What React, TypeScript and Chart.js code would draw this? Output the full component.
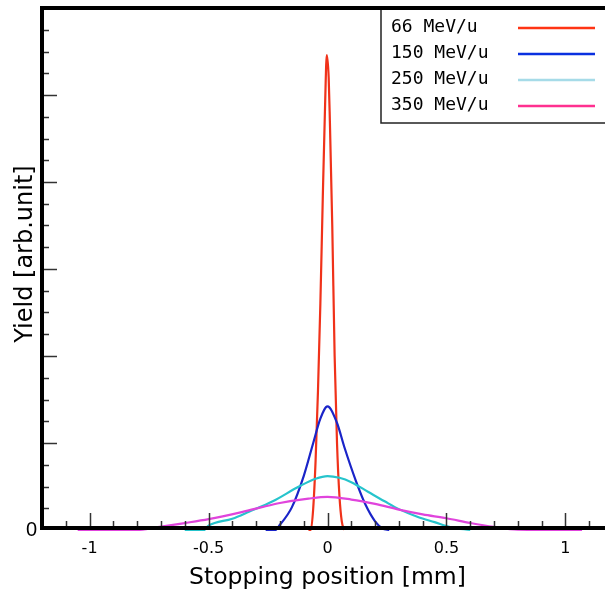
import React, { useEffect, useRef } from "react";
import { Chart, registerables } from "chart.js";

Chart.register(...registerables);

// ---- data ----
const seriesLabels = ["66 MeV/u", "150 MeV/u", "250 MeV/u", "350 MeV/u"];
const xTitle = "Stopping position [mm]";
const yTitle = "Yield [arb.unit]";

const x66 = [-0.08, -0.07, -0.06, -0.05, -0.04, -0.03, -0.02, -0.01, -0.003, 0.005, 0.01, 0.02, 0.03, 0.04, 0.05, 0.06, 0.07];
const y66 = [0, 0, 0.25, 0.8, 1.6, 2.6, 3.8, 4.9, 5.46, 5.2, 4.7, 3.5, 2.0, 1.0, 0.4, 0.1, 0];

const x150 = [-0.26, -0.22, -0.2, -0.15, -0.1, -0.06, -0.03, 0.0, 0.04, 0.07, 0.12, 0.16, 0.2, 0.23, 0.26];
const y150 = [0, 0, 0.06, 0.26, 0.62, 1.0, 1.28, 1.42, 1.23, 0.96, 0.56, 0.29, 0.1, 0.02, 0];

const x250 = [-0.6, -0.52, -0.5, -0.4, -0.33, -0.23, -0.12, -0.05, 0.0, 0.05, 0.1, 0.17, 0.24, 0.3, 0.38, 0.45, 0.52, 0.6];
const y250 = [0, 0, 0.05, 0.13, 0.21, 0.33, 0.5, 0.59, 0.62, 0.6, 0.55, 0.44, 0.33, 0.24, 0.15, 0.09, 0.03, 0];

const x350 = [-1.05, -0.8, -0.72, -0.6, -0.5, -0.37, -0.28, -0.2, -0.08, 0.0, 0.1, 0.2, 0.3, 0.4, 0.5, 0.6, 0.7, 0.8, 1.07];
const y350 = [0, 0, 0.03, 0.08, 0.125, 0.2, 0.26, 0.31, 0.36, 0.38, 0.35, 0.3, 0.235, 0.18, 0.135, 0.08, 0.035, 0.005, 0];

const xLimits = [-1.2, 1.2];
const yLimits = [0, 6];

// ---- styles ----
const curveColors = ["#f0321a", "#1a24c8", "#26c4cc", "#e044dc"];
const legendColors = ["#ff3414", "#0a30e0", "#a6dbe8", "#ff3090"];
const SANS = '"DejaVu Sans", sans-serif';

const toPoints = (xs: number[], ys: number[]) => xs.map((x, i) => ({ x, y: ys[i] }));

const framePlugin = {
  id: "framePlugin",
  afterDatasetsDraw(chart: any) {
    const { ctx, chartArea, scales } = chart;
    const xs = scales.x;
    const ys = scales.y;
    ctx.save();
    // ticks (inward)
    ctx.strokeStyle = "#333";
    ctx.lineWidth = 1.5;
    for (let i = 1; i < 24; i++) {
      const v = i * 0.25;
      const py = Math.round(ys.getPixelForValue(v)) + 0.5;
      const len = i % 4 === 0 ? 15 : 7;
      ctx.beginPath();
      ctx.moveTo(chartArea.left, py);
      ctx.lineTo(chartArea.left + len, py);
      ctx.stroke();
    }
    for (let i = -11; i <= 11; i++) {
      const v = i / 10;
      const px = Math.round(xs.getPixelForValue(v)) + 0.5;
      const len = i % 5 === 0 ? 15 : 7;
      ctx.beginPath();
      ctx.moveTo(px, chartArea.bottom - 2);
      ctx.lineTo(px, chartArea.bottom - 2 - len);
      ctx.stroke();
    }
    // frame
    ctx.strokeStyle = "#000";
    ctx.lineWidth = 4;
    ctx.beginPath();
    ctx.moveTo(chartArea.left, chartArea.bottom - 2);
    ctx.lineTo(chartArea.right, chartArea.bottom - 2);
    ctx.stroke();
    ctx.beginPath();
    ctx.moveTo(chartArea.left, chartArea.bottom);
    ctx.lineTo(chartArea.left, chartArea.top);
    ctx.stroke();

    // legend box
    const bx = chartArea.right - 232;
    const by = chartArea.top;
    const bw = 300;
    const bh = 115;
    ctx.fillStyle = "#fff";
    ctx.fillRect(bx, by, bw, bh);
    ctx.strokeStyle = "#222";
    ctx.lineWidth = 1.5;
    ctx.strokeRect(bx, by, bw, bh);
    ctx.font = '18px "DejaVu Sans Mono"';
    ctx.textBaseline = "middle";
    ctx.textAlign = "left";
    chart.data.datasets.forEach((ds: any, i: number) => {
      const cy = by + 19 + i * 26;
      ctx.fillStyle = "#000";
      ctx.fillText(ds.label, bx + 10, cy);
      ctx.strokeStyle = legendColors[i];
      ctx.lineWidth = 2.5;
      ctx.beginPath();
      ctx.moveTo(bx + 137, cy + 1);
      ctx.lineTo(bx + 214, cy + 1);
      ctx.stroke();
    });

    // top border
    ctx.strokeStyle = "#000";
    ctx.lineWidth = 4;
    ctx.beginPath();
    ctx.moveTo(chartArea.left - 2, chartArea.top);
    ctx.lineTo(chartArea.right, chartArea.top);
    ctx.stroke();

    // y-axis title
    ctx.translate(32, (chartArea.top + chartArea.bottom) / 2 - 15);
    ctx.rotate(-Math.PI / 2);
    ctx.font = `24px ${SANS}`;
    ctx.fillStyle = "#000";
    ctx.textAlign = "center";
    ctx.textBaseline = "alphabetic";
    ctx.fillText(yTitle, 0, 0);
    ctx.restore();
  },
};

export default function App() {
  const ref = useRef<HTMLCanvasElement | null>(null);
  useEffect(() => {
    if (!ref.current) return;
    const series = [
      toPoints(x66, y66),
      toPoints(x150, y150),
      toPoints(x250, y250),
      toPoints(x350, y350),
    ];
    const order = [3, 2, 1, 0];
    const chart = new Chart(ref.current, {
      type: "line",
      data: {
        datasets: [0, 1, 2, 3].map((i) => ({
          label: seriesLabels[i],
          data: series[i],
          borderColor: curveColors[i],
          backgroundColor: curveColors[i],
          borderWidth: 2.2,
          pointRadius: 0,
          cubicInterpolationMode: "monotone" as const,
          clip: false as any,
          order: order[i],
        })),
      },
      options: {
        animation: false,
        responsive: false,
        devicePixelRatio: 1,
        layout: { padding: { top: 8, right: 7, left: 0, bottom: 0 } },
        plugins: { legend: { display: false }, tooltip: { enabled: false } },
        scales: {
          x: {
            type: "linear",
            min: xLimits[0],
            max: xLimits[1],
            grid: { display: false, drawTicks: false },
            border: { display: false },
            ticks: {
              stepSize: 0.5,
              includeBounds: false,
              autoSkip: false,
              maxRotation: 0,
              color: "#000",
              padding: 9,
              font: { family: SANS, size: 16 },
              callback: (v: any) => `${Math.round(Number(v) * 10) / 10}`,
            },
            title: {
              display: true,
              text: xTitle,
              color: "#000",
              padding: { top: 0, bottom: 3 },
              font: { family: SANS, size: 23.5 },
            },
            afterFit: (s: any) => {
              s.height = 65;
              s.paddingLeft = 0;
              s.paddingRight = 0;
            },
          },
          y: {
            type: "linear",
            min: yLimits[0],
            max: yLimits[1],
            grid: { display: false, drawTicks: false },
            border: { display: false },
            afterBuildTicks: (s: any) => {
              s.ticks = [{ value: 0 }];
            },
            ticks: {
              color: "#000",
              padding: 5,
              font: { family: '"Liberation Sans", Arial, sans-serif', size: 20 },
              callback: (v: any) => `${v}`,
            },
            title: { display: false },
            afterFit: (s: any) => {
              s.width = 42;
              s.paddingTop = 0;
              s.paddingBottom = 0;
            },
          },
        },
      },
      plugins: [framePlugin],
    });
    return () => chart.destroy();
  }, []);

  return (
    <div
      style={{
        position: "fixed",
        left: 0,
        top: 0,
        width: 605,
        height: 595,
        overflow: "hidden",
        background: "#fff",
      }}
    >
      <canvas ref={ref} width={620} height={595} style={{ width: 620, height: 595, display: "block" }} />
    </div>
  );
}
